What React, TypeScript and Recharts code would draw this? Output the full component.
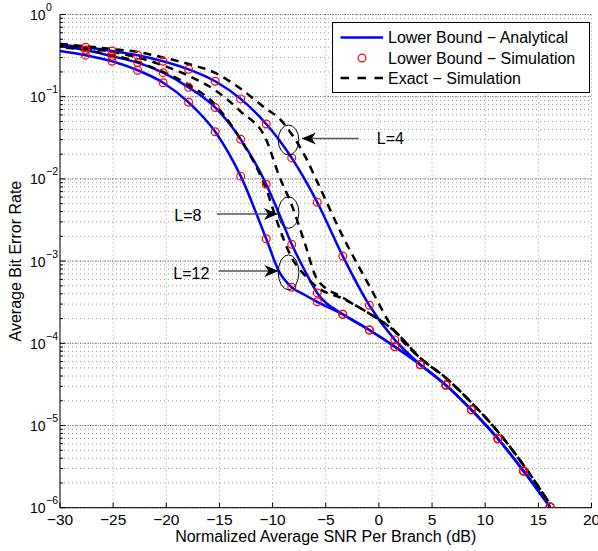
import React from 'react';
import {
  ComposedChart,
  Line,
  Scatter,
  XAxis,
  YAxis,
  CartesianGrid,
  ReferenceLine,
  ReferenceDot,
  Legend
} from 'recharts';

// SNR points where the simulated lower bound markers sit (dB)
const snrSim = [-27.6, -25.1, -22.7, -20.3, -17.9, -15.4, -13.0, -10.6, -8.2, -5.8, -3.4, -0.9, 1.5, 3.9, 6.3, 8.7, 11.2, 13.6, 16.1];
const berSimL4 = [0.40, 0.36, 0.32, 0.27, 0.215, 0.154, 0.094, 0.0466, 0.018, 0.0052, 0.00115, 2.9e-4, 1.1e-4, 5.5e-5, 3.1e-5, 1.55e-5, 6.9e-6, 2.8e-6, 1.02e-6];
const berSimL8 = [0.37, 0.31, 0.26, 0.196, 0.13, 0.074, 0.0303, 0.0086, 0.0016, 4.1e-4, 2.25e-4, 1.45e-4, 9.1e-5, 5.5e-5, 3.1e-5, 1.55e-5, 6.9e-6, 2.8e-6, 1.02e-6];
const berSimL12 = [0.32, 0.27, 0.21, 0.148, 0.0855, 0.0375, 0.0108, 0.00187, 4.8e-4, 3.2e-4, 2.25e-4, 1.45e-4, 9.1e-5, 5.5e-5, 3.1e-5, 1.55e-5, 6.9e-6, 2.8e-6, 1.02e-6];

// curves read on a slightly finer grid around the knee
const snrCurve = [-30, -27.6, -25.1, -22.7, -20.3, -17.9, -15.4, -13.0, -10.6, -9.4, -8.2, -7.0, -5.8, -3.4, -0.9, 1.5, 3.9, 6.3, 8.7, 11.2, 13.6, 16.1];
const berBoundL4 = [0.43, 0.40, 0.36, 0.32, 0.27, 0.215, 0.154, 0.094, 0.0466, 0.030, 0.018, 0.010, 0.0052, 0.00115, 2.9e-4, 1.1e-4, 5.5e-5, 3.1e-5, 1.55e-5, 6.9e-6, 2.8e-6, 1.02e-6];
const berBoundL8 = [0.41, 0.37, 0.31, 0.26, 0.196, 0.13, 0.074, 0.0303, 0.0086, 0.0038, 0.0016, 7.8e-4, 4.1e-4, 2.25e-4, 1.45e-4, 9.1e-5, 5.5e-5, 3.1e-5, 1.55e-5, 6.9e-6, 2.8e-6, 1.02e-6];
const berBoundL12 = [0.36, 0.32, 0.27, 0.21, 0.148, 0.0855, 0.0375, 0.0108, 0.00187, 7.5e-4, 4.8e-4, 3.9e-4, 3.2e-4, 2.25e-4, 1.45e-4, 9.1e-5, 5.5e-5, 3.1e-5, 1.55e-5, 6.9e-6, 2.8e-6, 1.02e-6];
const berExactL4 = [0.44, 0.41, 0.38, 0.35, 0.30, 0.25, 0.195, 0.125, 0.071, 0.055, 0.035, 0.0195, 0.0092, 0.002, 5.0e-4, 1.4e-4, 6.6e-5, 3.8e-5, 1.9e-5, 8.4e-6, 3.3e-6, 1.1e-6];
const berExactL8 = [0.42, 0.39, 0.35, 0.30, 0.24, 0.18, 0.12, 0.066, 0.030, 0.011, 0.0048, 0.0017, 6.0e-4, 3.6e-4, 2.3e-4, 1.4e-4, 6.6e-5, 3.8e-5, 1.9e-5, 8.4e-6, 3.3e-6, 1.1e-6];
const berExactL12 = [0.40, 0.37, 0.32, 0.265, 0.20, 0.14, 0.08, 0.03, 0.0075, 0.0026, 0.0011, 6.8e-4, 4.8e-4, 3.5e-4, 2.3e-4, 1.4e-4, 6.6e-5, 3.8e-5, 1.9e-5, 8.4e-6, 3.3e-6, 1.1e-6];

const xTicks = [-30, -25, -20, -15, -10, -5, 0, 5, 10, 15, 20];
const decades = [1e-6, 1e-5, 1e-4, 1e-3, 1e-2, 1e-1, 1];

// ellipse + arrow callouts, in data coordinates
const callouts = [
  { label: 'L=4', center: [-8.5, 0.0297], ry: 15, from: [-1.9, 0.031], to: [-7.25, 0.031], text: [-0.2, 0.0306], anchor: 'start' },
  { label: 'L=8', center: [-8.5, 0.0039], ry: 15.8, from: [-15.25, 0.00374], to: [-9.5, 0.00374], text: [-16.7, 0.0036], anchor: 'end' },
  { label: 'L=12', center: [-8.5, 0.00073], ry: 17.5, from: [-15.1, 0.00076], to: [-9.45, 0.00076], text: [-15.95, 0.00071], anchor: 'end' }
];

const FONT = '"Liberation Sans", Arial, Helvetica, sans-serif';
const W = 598;
const H = 551;

const toPoints = (xs: number[], ys: number[]) => xs.map((snr, i) => ({ snr, ber: ys[i] }));
const fmt = (v: number) => (v < 0 ? `\u2212${Math.abs(v)}` : `${v}`);
const isDecade = (v: number) => Math.abs(Math.log10(v) - Math.round(Math.log10(v))) < 1e-6;

// all y ticks: decades plus 2..9 minors
const yTicks = decades.flatMap((d, i) =>
  i === decades.length - 1 ? [d] : [1, 2, 3, 4, 5, 6, 7, 8, 9].map((m) => m * d)
);

const BottomTick = ({ x, y, payload }: any) => (
  <g>
    <line x1={x} x2={x} y1={y} y2={y - 5} stroke="#000" />
    <text x={x} y={y + 17.5} textAnchor="middle" fontSize={15.5} fill="#000">
      {fmt(payload.value)}
    </text>
  </g>
);

const TopTick = ({ x, y }: any) => <line x1={x} x2={x} y1={y} y2={y + 5} stroke="#000" />;

const LeftTick = ({ x, y, payload }: any) => {
  const major = isDecade(payload.value);
  const e = Math.round(Math.log10(payload.value));
  return (
    <g>
      <line x1={x} x2={x + (major ? 5 : 3)} y1={y} y2={y} stroke="#000" />
      {major && (
        <>
          <text x={x - 14.5} y={y + 5.5} textAnchor="end" fontSize={14} fill="#000">10</text>
          <text x={x - 14} y={y - 3.5} fontSize={10.5} fill="#000">{fmt(e)}</text>
        </>
      )}
    </g>
  );
};

const RightTick = ({ x, y, payload }: any) => (
  <line x1={x} x2={x - (isDecade(payload.value) ? 5 : 3)} y1={y} y2={y} stroke="#000" />
);

const LegendBox = () => (
  <svg width={258} height={71} style={{ display: 'block' }}>
    <rect x={0.5} y={0.5} width={257} height={70} fill="#fff" stroke="#000" />
    <line x1={8.5} x2={51} y1={15.5} y2={15.5} stroke="#0000ff" strokeWidth={2.5} />
    <text x={56} y={21} fontSize={16} fill="#000">Lower Bound − Analytical</text>
    <circle cx={30} cy={36} r={3.9} fill="none" stroke="#ff0000" strokeWidth={1.2} />
    <text x={56} y={41.5} fontSize={16} fill="#000">Lower Bound − Simulation</text>
    <line x1={8.5} x2={51} y1={56} y2={56} stroke="#000" strokeWidth={2.5} strokeDasharray="8.5 8.5" />
    <text x={56} y={61.5} fontSize={16} fill="#000">Exact − Simulation</text>
  </svg>
);

const XTitle = ({ viewBox }: any) => (
  <text x={viewBox.x + viewBox.width / 2} y={542} textAnchor="middle" fontSize={16} fill="#000">
    Normalized Average SNR Per Branch (dB)
  </text>
);

const YTitle = ({ viewBox }: any) => (
  <text
    transform={`translate(21,${viewBox.y + viewBox.height / 2}) rotate(-90)`}
    textAnchor="middle"
    fontSize={16}
    fill="#000"
  >
    Average Bit Error Rate
  </text>
);

const App: React.FC = () => {
  const bounds = [berBoundL4, berBoundL8, berBoundL12].map((ys) => toPoints(snrCurve, ys));
  const exacts = [berExactL4, berExactL8, berExactL12].map((ys) => toPoints(snrCurve, ys));
  const sims = [berSimL4, berSimL8, berSimL12].map((ys) => toPoints(snrSim, ys));

  return (
    <div style={{ position: 'absolute', left: 0, top: 0, width: W, height: H, background: '#fff', fontFamily: FONT }}>
      <ComposedChart width={W} height={H} margin={{ top: 14.5, right: 6.5, left: 0, bottom: 0 }}>
        <CartesianGrid stroke="#999" strokeDasharray="1 3" />
        {decades.map((d) => (
          <ReferenceLine key={d} y={d} stroke="#666" strokeDasharray="1 1.5" />
        ))}

        <XAxis
          dataKey="snr"
          type="number"
          domain={[-30, 20]}
          ticks={xTicks}
          interval={0}
          allowDataOverflow
          height={43.3}
          tickSize={0}
          tickMargin={0}
          axisLine={{ stroke: '#000' }}
          tickLine={false}
          tick={<BottomTick />}
          label={{ content: <XTitle /> }}
        />
        <XAxis
          xAxisId="top"
          orientation="top"
          type="number"
          domain={[-30, 20]}
          ticks={xTicks}
          interval={0}
          allowDataOverflow
          height={0}
          tickSize={0}
          tickMargin={0}
          axisLine={{ stroke: '#000' }}
          tickLine={false}
          tick={<TopTick />}
        />
        <YAxis
          dataKey="ber"
          type="number"
          scale="log"
          domain={[1e-6, 1]}
          ticks={yTicks}
          interval={0}
          allowDataOverflow
          width={60}
          tickSize={0}
          tickMargin={0}
          axisLine={{ stroke: '#000' }}
          tickLine={false}
          tick={<LeftTick />}
          label={{ content: <YTitle /> }}
        />
        <YAxis
          yAxisId="right"
          orientation="right"
          type="number"
          scale="log"
          domain={[1e-6, 1]}
          ticks={yTicks}
          interval={0}
          allowDataOverflow
          width={0}
          tickSize={0}
          tickMargin={0}
          axisLine={{ stroke: '#000' }}
          tickLine={false}
          tick={<RightTick />}
        />

        {bounds.map((pts, i) => (
          <Line
            key={`bound-${i}`}
            data={pts}
            dataKey="ber"
            type="monotone"
            stroke="#0000ff"
            strokeWidth={2.5}
            dot={false}
            activeDot={false}
            isAnimationActive={false}
          />
        ))}
        {exacts.map((pts, i) => (
          <Line
            key={`exact-${i}`}
            data={pts}
            dataKey="ber"
            type="monotone"
            stroke="#000"
            strokeWidth={2.5}
            strokeDasharray="8 6"
            strokeDashoffset={i * 4}
            dot={false}
            activeDot={false}
            isAnimationActive={false}
          />
        ))}
        {sims.map((pts, i) => (
          <Scatter
            key={`sim-${i}`}
            data={pts}
            dataKey="ber"
            isAnimationActive={false}
            shape={(p: any) => <circle cx={p.cx} cy={p.cy} r={3.9} fill="none" stroke="#ff0000" strokeWidth={1.2} />}
          />
        ))}

        {callouts.map((c) => (
          <ReferenceDot
            key={`ell-${c.label}`}
            x={c.center[0]}
            y={c.center[1]}
            r={1}
            shape={(p: any) => <ellipse cx={p.cx} cy={p.cy} rx={10.3} ry={c.ry} fill="none" stroke="#000" strokeWidth={1} />}
          />
        ))}
        {callouts.map((c) => (
          <ReferenceLine
            key={`arr-${c.label}`}
            segment={[{ x: c.from[0], y: c.from[1] }, { x: c.to[0], y: c.to[1] }]}
            stroke="#555"
            strokeWidth={1.5}
          />
        ))}
        {callouts.map((c) => {
          const dir = c.to[0] > c.from[0] ? 1 : -1;
          return (
            <ReferenceDot
              key={`head-${c.label}`}
              x={c.to[0]}
              y={c.to[1]}
              r={1}
              shape={(p: any) => (
                <path
                  d={`M${p.cx},${p.cy} L${p.cx - dir * 14},${p.cy - 6} L${p.cx - dir * 10},${p.cy} L${p.cx - dir * 14},${p.cy + 6} Z`}
                  fill="#000"
                />
              )}
            />
          );
        })}
        {callouts.map((c) => (
          <ReferenceDot
            key={`txt-${c.label}`}
            x={c.text[0]}
            y={c.text[1]}
            r={1}
            shape={(p: any) => (
              <text x={p.cx} y={p.cy + 5.5} textAnchor={c.anchor as any} fontSize={16} fill="#000">
                {c.label}
              </text>
            )}
          />
        ))}

        <Legend
          content={<LegendBox />}
          layout="vertical"
          align="center"
          verticalAlign="middle"
          wrapperStyle={{ left: 332, top: 22, width: 258, height: 71 }}
        />
      </ComposedChart>
    </div>
  );
};

export default App;
